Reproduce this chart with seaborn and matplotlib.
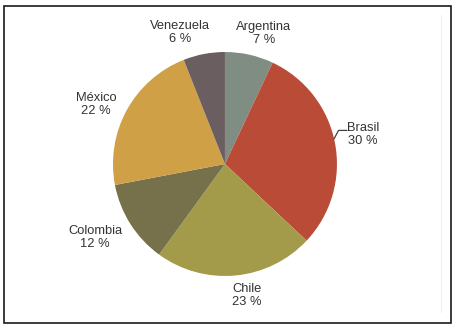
import numpy as np
import seaborn as sns
import matplotlib.pyplot as plt
from matplotlib.patches import Rectangle
from matplotlib.lines import Line2D

countries = ["Argentina", "Brasil", "Chile", "Colombia", "México", "Venezuela"]
shares = [7, 30, 23, 12, 22, 6]
colors = ["#7f8d83", "#b94b37", "#a39b4a", "#76714b", "#cfa045", "#6b5e60"]

sns.set_theme(style="white")
plt.rcParams['font.family'] = ['Liberation Sans', 'DejaVu Sans']

fig = plt.figure(figsize=(4.54, 3.28), dpi=100)
ax = fig.add_axes([0.150, 0.022, 0.691, 0.956])

wedges, _ = ax.pie(shares, colors=sns.color_palette(colors), startangle=90,
                   counterclock=False, radius=1.0,
                   wedgeprops=dict(linewidth=0))
ax.set_xlim(-1.4, 1.4)
ax.set_ylim(-1.4, 1.4)
ax.set_aspect('equal')
ax.axis('off')

# label distance per slice (Excel-like placement)
dist = {"Argentina": 1.22, "Chile": 1.19, "Colombia": 1.33,
        "México": 1.27, "Venezuela": 1.24}
shift = {"Argentina": -4, "Venezuela": 8, "Chile": 4, "Colombia": -3, "México": 4}
fs = 9.3

for w, name, val in zip(wedges, countries, shares):
    mid = (w.theta1 + w.theta2) / 2
    txt = f"{name}\n{val} %"
    if name == "Brasil":
        a = np.deg2rad(13)
        ex, ey = np.cos(a), np.sin(a)
        ax.add_line(Line2D([ex, ex + 0.04, 1.09], [ey, 0.30, 0.30],
                           color="#404040", lw=0.9))
        ax.text(1.09, 0.26, txt, ha="left", va="center", fontsize=fs,
                color="#333333", linespacing=1.12, multialignment="center")
        continue
    a = np.deg2rad(mid + shift[name])
    ax.text(dist[name] * np.cos(a), dist[name] * np.sin(a), txt,
            ha="center", va="center", fontsize=fs, color="#333333",
            linespacing=1.12)

# outer frame and faint plot-area edge
fig.patches.append(Rectangle((4 / 454, 5 / 328), 447 / 454, 317 / 328,
                             transform=fig.transFigure, fill=False,
                             edgecolor="#1a1a1a", linewidth=1.2))
fig.lines.append(Line2D([441 / 454, 441 / 454], [16 / 328, 313 / 328],
                        transform=fig.transFigure, color="#f0f0f0", lw=0.8))

fig.savefig("out.png", dpi=100)
